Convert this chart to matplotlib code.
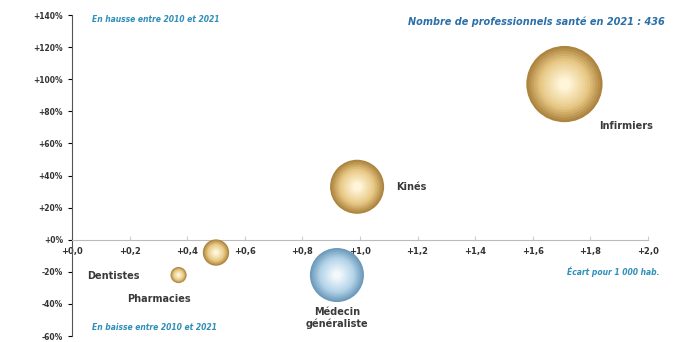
import matplotlib.pyplot as plt
import numpy as np
from matplotlib.colors import to_rgb
from matplotlib.ticker import FuncFormatter

# ---- DATA ----
professions = ["Infirmiers", "Kinés", "Médecin\ngénéraliste", "Dentistes", "Pharmacies"]
densite = [1.71, 0.99, 0.92, 0.50, 0.37]          # pour 1 000 hab.
evolution = [97, 33, -22, -8, -22]                 # % entre 2010 et 2021
effectifs = [201, 101, 101, 24, 9]                 # nombre en 2021 (total 436)

# label offsets (points) and alignment
label_offsets = [(25, -30), (28, 0), (0, -31), (-74, -17), (-14, -17)]
label_align = ["left", "left", "center", "center", "center"]

gold = ("#ad8540", "#e8c885", "#fff6da")
blue = ("#6d9abb", "#b3d3e8", "#f2f8fc")


def mix(c1, c2, t):
    a, b = np.array(to_rgb(c1)), np.array(to_rgb(c2))
    return a + (b - a) * t


fig = plt.figure(figsize=(6.76, 3.42), dpi=100)
ax = fig.add_axes([0.1065, 0.0175, 0.852, 0.9385])

# ---- BUBBLES (layered to fake a sphere gradient) ----
for i in range(len(professions)):
    edge, mid, light = gold if professions[i] != "Médecin\ngénéraliste" else blue
    base = effectifs[i] * 15
    n = 14
    for k in range(n):
        t = k / (n - 1)
        f = 1 - 0.85 * t
        col = mix(edge, mid, min(t * 2.5, 1)) if t < 0.4 else mix(mid, light, (t - 0.4) / 0.6)
        ax.scatter(densite[i], evolution[i], s=base * f ** 2, color=col,
                   edgecolors="none", zorder=3 + k * 0.01)

for i, name in enumerate(professions):
    ax.annotate(name, (densite[i], evolution[i]), xytext=label_offsets[i],
                textcoords="offset points", ha=label_align[i], va="center",
                fontsize=7, fontweight="bold", color="#3a3a3a", zorder=5)

# ---- AXES ----
ax.set_xlim(0, 2.0)
ax.set_ylim(-60, 140)
ax.set_xticks(np.arange(0, 2.01, 0.2))
ax.set_yticks(np.arange(-60, 141, 20))
ax.xaxis.set_major_formatter(FuncFormatter(lambda v, p: f"{v:+.1f}".replace(".", ",")))
ax.yaxis.set_major_formatter(FuncFormatter(lambda v, p: f"{v:+.0f}%"))
ax.spines["bottom"].set_position(("data", 0))
ax.spines["bottom"].set_color("#bbbbbb")
ax.spines["left"].set_color("#555555")
ax.spines["top"].set_visible(False)
ax.spines["right"].set_visible(False)
ax.tick_params(axis="x", direction="in", length=3, color="#cccccc", labelsize=6,
               pad=5, labelcolor="#333333")
ax.tick_params(axis="y", length=3, labelsize=5.5, labelcolor="#333333")
for lab in ax.get_xticklabels() + ax.get_yticklabels():
    lab.set_fontweight("bold")

# ---- NOTES ----
note = dict(fontsize=5.5, style="italic", fontweight="bold", color="#2f8fb8",
            transform=ax.transAxes)
ax.text(0.035, 0.985, "En hausse entre 2010 et 2021", va="center", ha="left", **note)
ax.text(0.035, 0.025, "En baisse entre 2010 et 2021", va="center", ha="left", **note)
ax.text(1.02, 0.2, "Écart pour 1 000 hab.", va="center", ha="right", **note)
ax.text(1.03, 0.98, "Nombre de professionnels santé en 2021 : 436", va="center",
        ha="right", fontsize=7, style="italic", fontweight="bold", color="#2a6fa8",
        transform=ax.transAxes)

fig.savefig("out.png", dpi=100)
